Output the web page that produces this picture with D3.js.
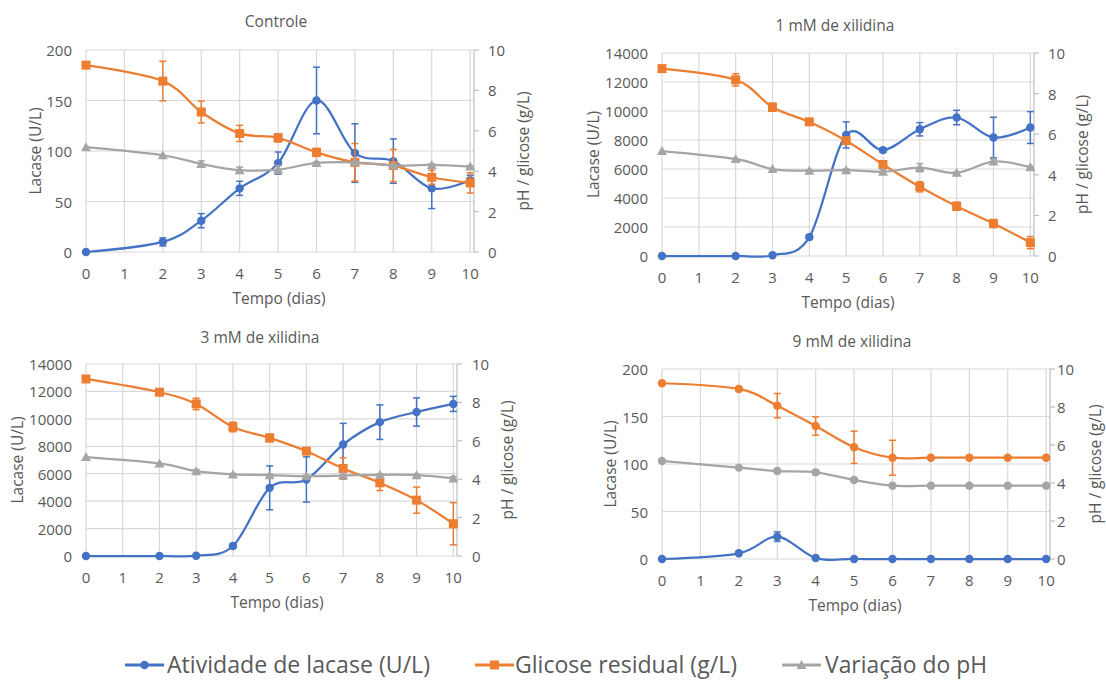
<!DOCTYPE html>
<html><head><meta charset="utf-8">
<script src="https://cdn.jsdelivr.net/npm/d3@7"></script>
<style>
body{margin:0;background:#fff}
text{font-family:"Open Sans",sans-serif;fill:#595959}
</style>
</head><body>
<svg id="chart" width="1106" height="680"></svg>
<script>
// ---------- data ----------
const days = [0, 2, 3, 4, 5, 6, 7, 8, 9, 10];
const xTickValues = [0, 1, 2, 3, 4, 5, 6, 7, 8, 9, 10];
const panelTitles = ["Controle", "1 mM de xilidina", "3 mM de xilidina", "9 mM de xilidina"];
const legendLabels = ["Atividade de lacase (U/L)", "Glicose residual (g/L)", "Variação do pH"];
const xAxisTitle = "Tempo (dias)";
const leftAxisTitle = "Lacase (U/L)";
const rightAxisTitle = "pH / glicose (g/L)";
const leftTicksSmall = [0, 50, 100, 150, 200];
const leftTicksLarge = [0, 2000, 4000, 6000, 8000, 10000, 12000, 14000];
const rightTicks = [0, 2, 4, 6, 8, 10];

// Controle
const ctrlLacase    = [0, 10, 31, 63, 88, 150, 98, 90, 63, 71];
const ctrlLacaseErr = [0, 4, 7, 7, 11, 33, 29, 22, 20, 5];
const ctrlGlicose    = [9.25, 8.46, 6.93, 5.87, 5.65, 4.93, 4.44, 4.28, 3.70, 3.42];
const ctrlGlicoseErr = [0, 0.98, 0.54, 0.4, 0.2, 0.2, 0.93, 0.8, 0.35, 0.5];
const ctrlPH    = [5.19, 4.79, 4.36, 4.05, 4.08, 4.41, 4.44, 4.28, 4.31, 4.23];
const ctrlPHErr = [0, 0, 0.15, 0.15, 0.2, 0.05, 0.05, 0.05, 0.05, 0.05];

// 1 mM
const mm1Lacase    = [0, 0, 50, 1300, 8350, 7300, 8740, 9550, 8170, 8860];
const mm1LacaseErr = [0, 0, 0, 150, 900, 150, 460, 500, 1400, 1100];
const mm1Glicose    = [9.23, 8.68, 7.33, 6.61, 5.68, 4.51, 3.41, 2.45, 1.60, 0.66];
const mm1GlicoseErr = [0, 0.3, 0.2, 0.1, 0.15, 0.1, 0.25, 0.2, 0.2, 0.3];
const mm1PH    = [5.17, 4.78, 4.28, 4.20, 4.23, 4.15, 4.35, 4.10, 4.65, 4.37];
const mm1PHErr = [0, 0, 0, 0.05, 0.05, 0.1, 0.2, 0.05, 0.1, 0.05];

// 3 mM
const mm3Lacase    = [0, 0, 20, 730, 4970, 5580, 8130, 9760, 10500, 11090];
const mm3LacaseErr = [0, 0, 0, 150, 1600, 1650, 1540, 1260, 1030, 550];
const mm3Glicose    = [9.22, 8.53, 7.92, 6.72, 6.15, 5.46, 4.56, 3.81, 2.91, 1.68];
const mm3GlicoseErr = [0, 0.05, 0.3, 0.25, 0.2, 0.15, 0.56, 0.4, 0.68, 1.1];
const mm3PH    = [5.15, 4.82, 4.42, 4.25, 4.21, 4.16, 4.19, 4.23, 4.21, 4.04];
const mm3PHErr = [0, 0, 0.08, 0.05, 0.05, 0.05, 0.05, 0.05, 0.05, 0.1];

// 9 mM
const mm9Lacase    = [0, 6, 23.5, 1, 0, 0, 0, 0, 0, 0];
const mm9LacaseErr = [0, 0, 5, 0, 0, 0, 0, 0, 0, 0];
const mm9Glicose    = [9.25, 8.95, 8.07, 7.0, 5.88, 5.33, 5.33, 5.33, 5.33, 5.33];
const mm9GlicoseErr = [0, 0.1, 0.64, 0.48, 0.85, 0.92, 0, 0, 0, 0];
const mm9PH    = [5.16, 4.81, 4.63, 4.56, 4.16, 3.86, 3.86, 3.86, 3.86, 3.86];
const mm9PHErr = [0, 0, 0.1, 0.12, 0.1, 0, 0, 0, 0, 0];

// ---------- styling / layout ----------
const colors = ["#4472C4", "#ED7D31", "#A5A5A5"];
const gridColor = "#d9d9d9";
const axisColor = "#bfbfbf";
const tickFont = 15;
const titleFont = 15.5;

const panels = [
  {title: panelTitles[0], leftTicks: leftTicksSmall,
   series: [[ctrlLacase, ctrlLacaseErr], [ctrlGlicose, ctrlGlicoseErr], [ctrlPH, ctrlPHErr]],
   markers: ["circle", "square", "triangle"],
   l: 86, r: 474, t: 50, b: 252, titleX: 276, titleY: 21, yTitleX: 35, rTitleX: 523, rLabX: 488, xTitleX: 279},
  {title: panelTitles[1], leftTicks: leftTicksLarge,
   series: [[mm1Lacase, mm1LacaseErr], [mm1Glicose, mm1GlicoseErr], [mm1PH, mm1PHErr]],
   markers: ["circle", "square", "triangle"],
   l: 662, r: 1034, t: 53, b: 256, titleX: 835, titleY: 25, yTitleX: 593, rTitleX: 1082, rLabX: 1048, xTitleX: 848},
  {title: panelTitles[2], leftTicks: leftTicksLarge,
   series: [[mm3Lacase, mm3LacaseErr], [mm3Glicose, mm3GlicoseErr], [mm3PH, mm3PHErr]],
   markers: ["circle", "square", "triangle"],
   l: 86, r: 457, t: 364, b: 556, titleX: 260, titleY: 337, yTitleX: 17, rTitleX: 507, rLabX: 472, xTitleX: 277},
  {title: panelTitles[3], leftTicks: leftTicksSmall,
   series: [[mm9Lacase, mm9LacaseErr], [mm9Glicose, mm9GlicoseErr], [mm9PH, mm9PHErr]],
   markers: ["circle", "circle", "circle"],
   l: 662, r: 1050, t: 369, b: 559, titleX: 852, titleY: 341, yTitleX: 610, rTitleX: 1095, rLabX: 1057, xTitleX: 855}
];

const svg = d3.select("#chart");
const curve = d3.curveCardinal.tension(0);

function drawMarker(g, type, cx, cy, color) {
  if (type === "circle") {
    g.append("circle").attr("cx", cx).attr("cy", cy).attr("r", 4.2).attr("fill", color);
  } else if (type === "square") {
    g.append("rect").attr("x", cx - 4.5).attr("y", cy - 4.5).attr("width", 9).attr("height", 9).attr("fill", color);
  } else {
    g.append("path").attr("d", `M${cx},${cy - 5}L${cx + 5},${cy + 4}L${cx - 5},${cy + 4}Z`).attr("fill", color);
  }
}

panels.forEach(p => {
  const g = svg.append("g");
  const x = d3.scaleLinear().domain([0, 10.1]).range([p.l, p.r]);
  const yL = d3.scaleLinear().domain([0, d3.max(p.leftTicks)]).range([p.b, p.t]);
  const yR = d3.scaleLinear().domain([0, 10]).range([p.b, p.t]);

  // horizontal gridlines
  g.selectAll(".hg").data(p.leftTicks).enter().append("line")
    .attr("x1", p.l).attr("x2", p.r).attr("y1", d => yL(d)).attr("y2", d => yL(d))
    .attr("stroke", gridColor).attr("stroke-width", 1.2);
  // vertical gridlines
  g.selectAll(".vg").data(xTickValues).enter().append("line")
    .attr("x1", d => x(d)).attr("x2", d => x(d)).attr("y1", p.t).attr("y2", p.b)
    .attr("stroke", gridColor).attr("stroke-width", 1.2);

  // right axis line with ticks
  g.append("line").attr("x1", p.r).attr("x2", p.r).attr("y1", p.t).attr("y2", p.b)
    .attr("stroke", axisColor).attr("stroke-width", 1.2);
  g.selectAll(".rt").data(rightTicks).enter().append("line")
    .attr("x1", p.r).attr("x2", p.r + 5).attr("y1", d => yR(d)).attr("y2", d => yR(d))
    .attr("stroke", axisColor).attr("stroke-width", 1.2);

  // tick labels
  g.selectAll(".lt").data(p.leftTicks).enter().append("text")
    .attr("x", p.l - 14).attr("y", d => yL(d)).attr("text-anchor", "end")
    .attr("dominant-baseline", "central").attr("font-size", tickFont).text(d => d);
  g.selectAll(".rl").data(rightTicks).enter().append("text")
    .attr("x", p.rLabX).attr("y", d => yR(d)).attr("text-anchor", "start")
    .attr("dominant-baseline", "central").attr("font-size", tickFont).text(d => d);
  g.selectAll(".xl").data(xTickValues).enter().append("text")
    .attr("x", d => x(d)).attr("y", p.b + 21).attr("text-anchor", "middle")
    .attr("dominant-baseline", "central").attr("font-size", tickFont).text(d => d);

  // titles
  g.append("text").attr("x", p.titleX).attr("y", p.titleY).attr("text-anchor", "middle")
    .attr("dominant-baseline", "central").attr("font-size", titleFont).text(p.title);
  g.append("text").attr("x", p.xTitleX).attr("y", p.b + 46).attr("text-anchor", "middle")
    .attr("dominant-baseline", "central").attr("font-size", titleFont).text(xAxisTitle);
  const cy = (p.t + p.b) / 2;
  g.append("text").attr("transform", `translate(${p.yTitleX},${cy}) rotate(-90)`)
    .attr("text-anchor", "middle").attr("dominant-baseline", "central").attr("font-size", titleFont).text(leftAxisTitle);
  g.append("text").attr("transform", `translate(${p.rTitleX},${cy}) rotate(-90)`)
    .attr("text-anchor", "middle").attr("dominant-baseline", "central").attr("font-size", titleFont).text(rightAxisTitle);

  // series
  p.series.forEach((s, i) => {
    const [vals, errs] = s;
    const y = i === 0 ? yL : yR;
    const color = colors[i];
    const pts = days.map((d, k) => ({x: d, v: vals[k], e: errs[k]}));
    const sg = g.append("g");
    sg.append("path").datum(pts)
      .attr("d", d3.line().x(d => x(d.x)).y(d => y(d.v)).curve(curve))
      .attr("fill", "none").attr("stroke", color).attr("stroke-width", 2.25);
    // error bars
    pts.filter(d => d.e > 0).forEach(d => {
      const X = x(d.x), y1 = y(d.v + d.e), y2 = y(d.v - d.e);
      sg.append("line").attr("x1", X).attr("x2", X).attr("y1", y1).attr("y2", y2)
        .attr("stroke", color).attr("stroke-width", 1.5);
      [y1, y2].forEach(yy => sg.append("line").attr("x1", X - 3.5).attr("x2", X + 3.5)
        .attr("y1", yy).attr("y2", yy).attr("stroke", color).attr("stroke-width", 1.5));
    });
    pts.forEach(d => drawMarker(sg, p.markers[i], x(d.x), y(d.v), color));
  });
});

// ---------- legend ----------
const legendItems = [
  {lineX: 125, textX: 167, width: 263, marker: "circle"},
  {lineX: 475, textX: 515, width: 222, marker: "square"},
  {lineX: 782, textX: 825, width: 162, marker: "triangle"}
];
const lg = svg.append("g");
legendItems.forEach((it, i) => {
  const ly = 665;
  lg.append("line").attr("x1", it.lineX).attr("x2", it.lineX + 39).attr("y1", ly).attr("y2", ly)
    .attr("stroke", colors[i]).attr("stroke-width", 3);
  drawMarker(lg, it.marker, it.lineX + 19.5, ly, colors[i]);
  lg.append("text").attr("x", it.textX).attr("y", 673).attr("font-size", 24)
    .attr("textLength", it.width).attr("lengthAdjust", "spacingAndGlyphs").text(legendLabels[i]);
});
</script>
</body></html>
